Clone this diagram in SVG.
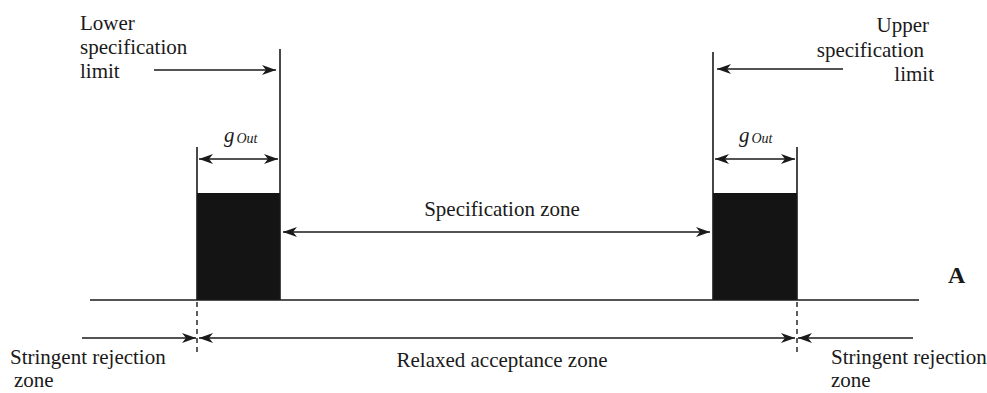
<svg xmlns="http://www.w3.org/2000/svg" width="987" height="393" viewBox="0 0 987 393">
  <style>
    .t { font-family: "Liberation Serif", "Times New Roman", serif; font-size: 21px; fill: #1a1a1a; }
    .g { font-family: "Liberation Serif", "Times New Roman", serif; font-style: italic; fill: #1a1a1a; }
    .ln { stroke: #1a1a1a; stroke-width: 1.6; fill: none; }
    .ar { stroke: #1a1a1a; stroke-width: 1.6; fill: none; marker-end: url(#ah); }
    .ar2 { stroke: #1a1a1a; stroke-width: 1.6; fill: none; marker-start: url(#ahs); marker-end: url(#ah); }
    .dash { stroke: #1a1a1a; stroke-width: 1.4; stroke-dasharray: 5 4; fill: none; }
    .blk { fill: #141414; }
  </style>
  <defs>
    <marker id="ah" viewBox="0 0 14 10" refX="14" refY="5" markerWidth="14" markerHeight="10" markerUnits="userSpaceOnUse" orient="auto">
      <path d="M0,0 L14,5 L0,10 L4,5 Z" fill="#1a1a1a"/>
    </marker>
    <marker id="ahs" viewBox="0 0 14 10" refX="0" refY="5" markerWidth="14" markerHeight="10" markerUnits="userSpaceOnUse" orient="auto">
      <path d="M14,0 L0,5 L14,10 L10,5 Z" fill="#1a1a1a"/>
    </marker>
  </defs>

  <!-- guard band blocks -->
  <g id="lower-band">
    <rect class="blk" x="197" y="193" width="83" height="107"/>
    <line class="ln" x1="197" y1="147" x2="197" y2="300"/>
    <line class="ln" x1="280" y1="49" x2="280" y2="300"/>
  </g>
  <g id="upper-band">
    <rect class="blk" x="713" y="193" width="84" height="107"/>
    <line class="ln" x1="713" y1="52" x2="713" y2="300"/>
    <line class="ln" x1="797" y1="147" x2="797" y2="300"/>
  </g>

  <!-- measurement axis -->
  <g id="axis">
    <line class="ln" x1="90" y1="300" x2="919" y2="300"/>
    <line class="dash" x1="197" y1="302" x2="197" y2="352"/>
    <line class="dash" x1="797" y1="302" x2="797" y2="352"/>
    <text x="948" y="283" font-family="Liberation Serif, serif" font-size="24" font-weight="bold" fill="#1a1a1a">A</text>
  </g>

  <!-- labels -->
  <g id="lsl-label">
    <text class="t" x="80" y="30">Lower</text>
    <text class="t" x="80" y="54">specification</text>
    <text class="t" x="80" y="78">limit</text>
  </g>
  <g id="usl-label">
    <text class="t" x="929" y="32" text-anchor="end">Upper</text>
    <text class="t" x="924" y="57" text-anchor="end">specification</text>
    <text class="t" x="934" y="81" text-anchor="end">limit</text>
  </g>
  <g id="g-left">
    <text class="g" x="224" y="142" font-size="21">g<tspan font-size="14" dx="2" dy="1">Out</tspan></text>
  </g>
  <g id="g-right">
    <text class="g" x="739" y="142" font-size="21">g<tspan font-size="14" dx="2" dy="1">Out</tspan></text>
  </g>
  <g id="spec-zone">
    <text class="t" x="502" y="216" text-anchor="middle">Specification zone</text>
  </g>
  <g id="relaxed-zone">
    <text class="t" x="502" y="367" text-anchor="middle">Relaxed acceptance zone</text>
  </g>
  <g id="reject-left">
    <text class="t" x="10" y="364">Stringent rejection</text>
    <text class="t" x="14" y="387">zone</text>
  </g>
  <g id="reject-right">
    <text class="t" x="831" y="364">Stringent rejection</text>
    <text class="t" x="831" y="387">zone</text>
  </g>

  <!-- connectors -->
  <g id="connectors">
    <line class="ar" x1="154" y1="70" x2="276" y2="70"/>
    <line class="ar" x1="843" y1="69" x2="717" y2="69"/>
    <line class="ar2" x1="199" y1="159" x2="278" y2="159"/>
    <line class="ar2" x1="715" y1="159" x2="795" y2="159"/>
    <line class="ar2" x1="283" y1="232" x2="710" y2="232"/>
    <line class="ar2" x1="199" y1="338" x2="795" y2="338"/>
    <line class="ar" x1="82" y1="338" x2="196" y2="338"/>
    <line class="ar" x1="913" y1="338" x2="798" y2="338"/>
  </g>
</svg>
